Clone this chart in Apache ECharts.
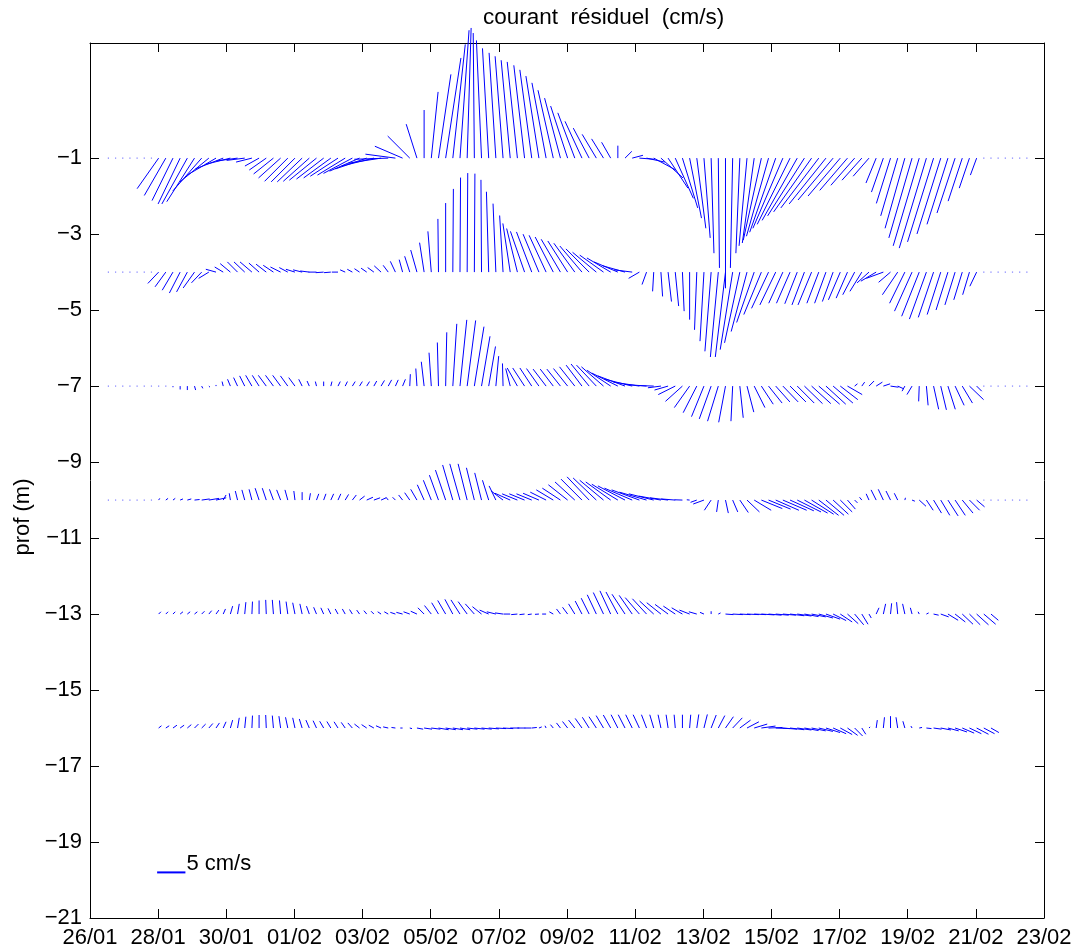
<!DOCTYPE html>
<html><head><meta charset="utf-8">
<script src="https://cdn.jsdelivr.net/npm/echarts@6/dist/echarts.min.js"></script>
<style>html,body{margin:0;padding:0;background:#fff}#c{width:1078px;height:951px}</style>
</head><body><div id="c"></div>
<script>
// ---- axis ticks ----
const tickLabels = ['26/01','28/01','30/01','01/02','03/02','05/02','07/02','09/02','11/02','13/02','15/02','17/02','19/02','21/02','23/02'];
const dayTicks = [0,2,4,6,8,10,12,14,16,18,20,22,24,26,28];
const depthTicks = [-21,-19,-17,-15,-13,-11,-9,-7,-5,-3,-1];
const depths = [-1,-4,-7,-10,-13,-16];
// sampling: first sample 26/01 ~13h, step ~5h
const startDay = 0.54;
const stepDay = 0.2106;

// ---- residual current (cm/s): east (u) and north (v) components, per depth ----
const u1 = [0,0,0,0,0,0,0,
 -3.8,-3.8,-3.7,-3.9,-4.5,-4.9,-5.1,-5.1,-5.1,-4.9,
 -4.4,-3.7,-3.2,-2.8,-2.5,-3.0,-3.5,-3.9,-4.1,-4.2,
 -4.4,-4.6,-4.8,-4.8,-4.8,-4.9,-4.9,-5.1,-5.3,-5.5,
 -5.7,-5.8,-6.0,-5.3,-4.9,-3.9,-1.9,0,1.2,2.2,
 2.7,2.2,1.6,0.7,-0.2,-0.9,-1.1,-1.2,-1.4,-1.6,
 -1.8,-1.9,-2.1,-2.3,-2.5,-2.7,-2.8,-3.0,-3.0,-3.0,
 -2.8,-2.5,-2.1,-1.6,0,1.2,1.9,2.7,3.2,3.9,
 3.9,3.5,3.2,2.7,2.1,1.6,1.1,0.5,0.2,0,
 -0.4,-0.7,-1.4,-2.1,-3.2,-3.9,-4.6,-5.3,-5.8,-6.2,
 -6.5,-6.7,-6.7,-6.5,-6.2,-5.7,-4.9,-4.2,-3.5,-2.8,
 -1.8,-2.1,-2.5,-3.0,-3.5,-4.1,-4.6,-4.8,-4.6,-4.2,
 -3.7,-3.2,-2.5,-1.8,-1.1,
 0,0,0,0,0,0,0];
const v1 = [0,0,0,0,0,0,0,
 -5.4,-6.6,-7.5,-8.1,-8.1,-7.7,-5.8,-4.2,-3.0,-1.9,
 -1.1,-0.5,-0.4,-0.7,-1.4,-2.1,-2.8,-3.5,-4.1,-4.2,
 -4.2,-4.1,-3.9,-3.7,-3.5,-3.2,-3.0,-2.7,-2.3,-1.9,
 -1.4,-0.9,-0.2,0.7,2.1,3.9,6.0,8.5,11.7,14.8,
 17.7,20.1,22.6,23.0,22.1,20.8,19.4,18.6,18.0,17.3,
 17.0,16.4,15.6,14.5,13.3,12.0,10.6,9.2,8.0,6.5,
 5.3,4.2,3.4,2.8,2.2,1.2,0.5,-0.2,-0.7,-2.1,
 -3.5,-5.3,-7.1,-8.8,-10.6,-12.4,-14.1,-16.8,-19.4,-23.0,
 -19.4,-16.8,-15.5,-15.0,-14.5,-13.8,-13.1,-12.4,-11.7,-11.0,
 -10.2,-9.5,-8.8,-8.1,-7.4,-6.7,-5.7,-4.8,-3.9,-3.2,
 -4.4,-6.0,-8.0,-10.2,-12.4,-14.1,-15.5,-15.9,-14.8,-13.4,
 -11.7,-9.7,-7.6,-5.3,-3.0,
 0,0,0,0,0,0,0];
const u4 = [0,0,0,0,0,0,0,
 -1.9,-1.9,-1.9,-1.9,-1.9,-2.0,-1.8,-1.8,-1.8,-1.5,
 -1.8,-1.8,-1.9,-2.1,-1.8,-1.8,-1.8,-1.8,-1.5,-1.6,
 -1.6,-1.6,-1.4,-1.4,-1.2,-1.1,-0.9,-0.9,-0.9,-1.0,
 -1.1,-1.2,-0.9,-0.9,-0.6,-0.9,-1.1,-0.8,-0.6,-0.1,
 0,0.1,0.1,0.1,0.1,-0.1,-0.4,-0.5,-0.6,-1.3,
 -1.9,-2.5,-2.7,-2.8,-3.0,-3.2,-3.4,-3.5,-3.7,-3.9,
 -4.1,-4.2,-4.2,-4.2,-4.2,-3.9,-3.2,-1.9,-0.8,-0.2,
 0.3,0.6,0.6,0.3,0,-0.4,-0.7,-1.1,-1.4,-1.8,
 -2.2,-2.7,-2.8,-3.1,-3.1,-3.0,-2.8,-2.5,-2.4,-2.2,
 -2.2,-2.4,-2.1,-2.0,-1.9,-2.1,-2.0,-2.1,-2.1,-2.1,
 -2.7,-3.0,-2.1,-2.7,-2.7,-3.1,-3.1,-3.0,-2.7,-2.4,
 -2.1,-1.8,-1.5,-1.2,-1.2,
 0,0,0,0,0,0,0];
const v4 = [0,0,0,0,0,0,0,
 -2.0,-2.6,-3.2,-3.7,-3.5,-2.8,-1.9,-1.1,0.5,0.9,
 1.5,1.8,1.8,1.8,1.6,1.4,1.2,0.9,0.8,0.5,
 0.4,0.2,0,-0.1,-0.1,0,0.4,0.5,0.6,0.7,
 0.8,1.1,1.2,1.9,2.2,2.8,3.9,5.2,7.2,9.4,
 12.2,14.7,16.7,17.5,17.4,16.3,14.2,12.1,10.0,8.6,
 7.7,7.2,7.1,6.7,6.5,6.2,5.8,5.5,5.1,4.6,
 4.1,3.5,3.0,2.5,1.8,1.1,0.4,-1.1,-2.2,-3.4,
 -4.3,-5.2,-6.0,-6.9,-8.4,-10.2,-12.2,-14.0,-15.0,-15.0,
 -13.7,-12.5,-10.5,-8.9,-7.5,-6.4,-5.8,-5.5,-5.5,-5.6,
 -5.8,-5.8,-5.5,-5.5,-5.2,-4.9,-4.6,-4.0,-3.4,-1.9,
 -1.6,-1.1,-1.8,-4.0,-5.5,-6.9,-7.8,-8.3,-8.0,-7.5,
 -6.7,-5.8,-4.9,-4.0,-2.5,
 0,0,0,0,0,0,0];
const u7 = [0,0,0,0,0,0,0,0,0,
 0,0,0,0.2,0.2,0.2,0,-0.2,
 -0.5,-0.7,-0.9,-1.1,-1.2,-1.4,-1.4,-1.4,-1.3,-1.1,
 -0.6,-0.4,-0.2,0,0.2,0.4,0.4,0.5,0.5,0.5,
 0.5,0.6,0.6,0.5,0.5,0.1,-0.2,-0.5,-0.4,-0.2,
 0.2,0.7,1.2,1.5,1.7,1.5,1.2,0.5,-0.1,-0.8,
 -1.8,-2.1,-2.1,-2.2,-2.3,-2.3,-2.4,-2.5,-2.7,-2.8,
 -3.2,-3.5,-3.9,-4.2,-4.6,-4.8,-4.8,-4.6,-3.9,-2.8,
 -2.3,-2.4,-3.0,-3.0,-2.7,-2.4,-2.2,-2.1,-1.9,-1.2,
 -0.3,0.6,1.2,1.9,2.1,2.4,2.5,2.7,2.8,3.0,
 3.2,3.4,3.7,3.5,3.5,3.1,2.6,0.5,0.5,0.9,
 1.1,1.2,1.4,1.1,-0.5,-0.9,-0.1,0.3,0.9,1.0,
 1.3,1.6,1.8,2.5,0.9,
 0,0,0,0,0,0,0];
const v7 = [0,0,0,0,0,0,0,0,0,
 -0.2,-0.6,-0.7,-0.7,-0.4,-0.2,0.2,0.8,
 1.2,1.5,1.8,1.9,1.9,1.9,1.9,1.9,1.8,1.5,
 1.2,0.9,0.8,0.8,0.8,0.8,0.8,0.8,0.8,0.8,
 0.9,1.0,1.1,1.1,1.2,2.1,3.1,4.3,5.9,7.7,
 9.5,11.0,11.7,11.6,10.5,8.8,7.0,5.3,4.0,3.1,
 3.2,3.2,3.2,3.1,3.0,3.0,3.0,3.1,3.4,3.7,
 3.9,3.7,3.4,2.8,2.3,1.8,1.2,0.7,0.3,0.1,
 -0.3,-0.7,-1.5,-2.7,-3.8,-4.7,-5.4,-5.8,-6.2,-6.4,
 -6.2,-5.6,-4.6,-3.8,-3.2,-3.0,-2.8,-2.8,-2.8,-3.0,
 -3.1,-3.1,-3.2,-3.2,-3.0,-2.4,-1.5,0.4,0.7,0.9,
 0.7,0.4,-0.2,-0.5,-0.9,-1.5,-2.7,-3.4,-4.1,-4.2,
 -4.1,-3.4,-3.0,-2.4,-0.9,
 0,0,0,0,0,0,0];
const u10 = [0,0,0,0,0,0,0,
 0.2,0.4,0.4,0.5,0.7,0.9,1.4,1.8,1.8,0.5,
 -0.2,-0.4,-0.5,-0.5,-0.7,-0.7,-0.7,-0.7,-0.5,-0.2,
 0,0.2,0.4,0.4,0.5,0.5,0.6,0.7,0.9,1.1,
 1.1,0.9,-0.4,-0.5,-0.7,-0.9,-1.1,-1.2,-1.4,-1.6,
 -1.8,-1.8,-1.8,-1.6,-1.4,-1.2,-1.1,-1.2,-2.1,-2.7,
 -2.7,-2.7,-2.7,-2.8,-2.8,-3.0,-3.2,-3.4,-3.5,-3.7,
 -3.9,-4.1,-4.2,-4.4,-4.6,-4.8,-4.9,-4.9,-4.8,-4.4,
 -3.9,-3.2,-2.5,-1.4,-0.5,-1.1,-1.9,-1.2,-0.3,0.5,
 0.9,1.5,2.2,3.0,3.7,3.9,4.1,4.2,4.2,4.2,
 4.1,3.9,3.5,3.2,2.7,2.1,1.4,0.5,-0.4,-0.5,
 -0.9,-0.9,-0.8,-0.6,0.1,0.5,1.2,1.2,1.4,1.6,
 1.8,1.8,1.9,1.8,1.4,
 0,0,0,0,0,0,0];
const v10 = [0,0,0,0,0,0,0,
 0.3,0.3,0.3,0.2,0.2,0.1,0.2,0.3,0.4,0.9,
 1.2,1.6,1.8,1.9,2.1,2.1,1.9,1.8,1.8,1.6,
 1.4,1.2,1.1,1.1,1.1,1.1,1.0,0.9,0.7,0.5,
 0.4,0.4,0.5,0.5,0.9,1.3,1.9,2.7,3.5,4.4,
 5.3,6.2,6.4,6.4,5.7,4.8,3.5,2.5,1.6,1.2,
 1.1,1.1,1.1,1.2,1.4,1.8,2.1,2.7,3.2,3.7,
 4.1,3.9,3.5,3.2,2.8,2.5,2.1,1.8,1.4,1.1,
 0.7,0.4,0.2,0.05,0.05,-0.4,-0.7,-1.8,-2.1,-2.3,
 -2.1,-2.2,-2.1,-1.8,-1.5,-1.6,-1.8,-1.8,-1.9,-2.1,
 -2.3,-2.5,-2.7,-2.7,-2.5,-2.1,-1.6,-0.5,0.5,1.1,
 1.8,1.9,1.6,1.2,0.4,-0.2,-1.1,-1.8,-2.3,-2.7,
 -2.8,-2.7,-2.3,-1.8,-1.2,
 0,0,0,0,0,0,0];
const u13 = [null,null,null,null,null,null,null,
 0.4,0.4,0.4,0.5,0.5,0.5,0.5,0.5,0.5,0.4,
 0.4,0.3,0.2,0.1,0,-0.1,-0.2,-0.2,-0.3,-0.4,
 -0.4,-0.5,-0.5,-0.5,-0.5,-0.5,-0.5,-0.5,-0.5,-0.5,
 -0.5,-0.6,-0.7,-0.9,-1.1,-1.1,-1.1,-1.1,-1.2,-1.2,
 -1.4,-1.4,-1.6,-1.6,-1.6,-1.6,-1.6,-1.6,-1.4,-1.2,
 -1.1,-0.9,-0.7,-0.7,-0.7,-0.7,-0.7,-0.9,-1.1,-1.2,
 -1.4,-1.6,-1.8,-1.9,-2.1,-2.3,-2.3,-2.5,-2.5,-2.5,
 -2.5,-2.3,-2.1,-1.9,-1.8,-1.4,-0.7,0,0.4,1.4,
 1.8,1.9,2.1,2.1,2.3,2.3,2.3,2.3,2.5,2.5,
 2.5,2.5,2.5,2.5,2.3,2.1,1.9,1.6,1.1,0.4,
 0.5,0.4,0.2,-0.2,-0.4,-0.3,-0.2,0.4,0.9,1.4,
 1.8,1.8,1.9,1.9,2.1,2.1,1.3,
 null,null,null,null,null];
const v13 = [null,null,null,null,null,null,null,
 0.4,0.4,0.4,0.4,0.4,0.4,0.5,0.6,0.7,0.9,
 1.4,1.8,2.1,2.2,2.4,2.5,2.5,2.4,2.2,2.0,
 1.8,1.4,1.2,1.1,1.0,0.9,0.9,0.8,0.7,0.6,
 0.5,0.4,0.4,0.3,0.3,0.4,0.5,1.1,1.5,2.0,
 2.4,2.6,2.5,2.2,1.8,1.3,0.7,0.4,0.2,0,
 -0.1,-0.1,-0.1,-0.05,0,0.4,0.9,1.2,1.8,2.3,
 2.8,3.4,3.8,4.1,3.9,3.5,3.3,2.9,2.7,2.3,
 2.0,1.7,1.4,1.1,0.7,0.4,0.3,0.5,0.2,-0.1,
 -0.1,-0.1,-0.1,-0.1,-0.15,-0.2,-0.2,-0.2,-0.3,-0.35,
 -0.45,-0.5,-0.7,-0.9,-1.15,-1.4,-1.7,-1.9,-1.8,-0.7,
 1.1,1.8,1.9,2.1,1.8,1.1,0.4,0.2,-0.2,-0.5,
 -1.1,-1.4,-1.8,-1.9,-1.9,-1.8,-1.1,
 null,null,null,null,null];
const u16 = [null,null,null,null,null,null,null,
 0.5,0.6,0.7,0.7,0.7,0.7,0.7,0.7,0.6,0.5,
 0.4,0.3,0.2,0.1,0,-0.1,-0.2,-0.3,-0.4,-0.4,
 -0.5,-0.6,-0.6,-0.7,-0.7,-0.7,-0.7,-0.8,-0.9,-0.9,
 -0.9,-0.9,-0.9,-0.7,-0.4,0.4,1.1,1.4,1.6,1.8,
 1.8,1.8,1.8,1.8,1.8,1.8,1.8,1.8,1.8,1.6,
 1.4,1.2,0.9,0.5,-0.2,-0.5,-0.7,-0.9,-1.1,-1.2,
 -1.2,-1.3,-1.3,-1.3,-1.2,-1.2,-1.15,-1.1,-0.9,-0.7,
 -0.5,-0.35,-0.2,0,0.2,0.35,0.6,0.9,1.15,1.4,
 1.7,1.9,2.1,2.3,2.5,2.5,2.5,2.5,2.5,2.5,
 2.5,2.5,2.5,2.5,2.3,2.1,1.8,1.4,0.7,0.2,
 0.2,0.2,0,-0.3,-0.35,-0.2,0.5,0.9,1.4,1.8,
 1.9,2.1,2.1,2.1,2.1,1.9,1.4,
 null,null,null,null,null];
const v16 = [null,null,null,null,null,null,null,
 0.4,0.4,0.5,0.5,0.6,0.7,0.7,0.8,0.9,1.1,
 1.4,1.8,2.0,2.2,2.3,2.3,2.2,2.1,1.9,1.8,
 1.6,1.4,1.3,1.2,1.15,1.1,1.0,0.9,0.7,0.6,
 0.5,0.4,0.2,0.1,0,-0.1,-0.2,-0.2,-0.2,-0.3,
 -0.3,-0.3,-0.3,-0.2,-0.2,-0.2,-0.15,-0.1,-0.1,0,
 0,0,0.1,0.2,0.4,0.6,0.9,1.15,1.4,1.7,
 1.9,2.0,2.2,2.3,2.35,2.35,2.35,2.35,2.35,2.35,
 2.35,2.35,2.35,2.35,2.35,2.4,2.4,2.3,2.2,2.0,
 1.8,1.4,1.1,0.7,0.35,0.1,-0.1,-0.2,-0.3,-0.35,
 -0.45,-0.5,-0.6,-0.8,-1.0,-1.15,-1.3,-1.4,-1.1,0.2,
 1.4,1.9,2.1,1.9,1.2,0.35,0.1,-0.1,-0.2,-0.35,
 -0.5,-0.7,-0.9,-1.0,-1.1,-1.0,-0.8,
 null,null,null,null,null];

const uLevels = [u1,u4,u7,u10,u13,u16];
const vLevels = [v1,v4,v7,v10,v13,v16];

// scale reference arrow
const refSpeed = 5;            // cm/s
const refPos = [1.97, -19.8];  // day, depth
const refText = '5 cm/s';
const DAYS_PER_CMS = 0.1661;   // stick length: 1 cm/s drawn as long as 0.1661 day on the time axis

// ---- build dataset rows ----
const rows = [];
depths.forEach((d, k) => {
  const u = uLevels[k], v = vLevels[k];
  for (let i = 0; i < u.length; i++) {
    if (u[i] === null || v[i] === null) continue;
    rows.push([startDay + i * stepDay, d, u[i], v[i]]);
  }
});

const BLUE = '#0000ff';
const FONT = '"Liberation Sans", Arial, Helvetica, sans-serif';
const FS = 22;

function renderStick(params, api) {
  const p = api.coord([api.value(0), api.value(1)]);
  const u = api.value(2), v = api.value(3);
  const k = api.size([1, 0])[0] * DAYS_PER_CMS;
  if (u === 0 && v === 0) {
    return { type: 'rect', shape: { x: p[0] - 0.6, y: p[1] - 0.6, width: 1.2, height: 1.2 },
             style: { fill: BLUE, opacity: 0.5 } };
  }
  return { type: 'line', shape: { x1: p[0], y1: p[1], x2: p[0] + u * k, y2: p[1] - v * k },
           style: { stroke: BLUE, lineWidth: 1 } };
}

function renderRef(params, api) {
  const p = api.coord([api.value(0), api.value(1)]);
  const k = api.size([1, 0])[0] * DAYS_PER_CMS;
  const x2 = p[0] + api.value(2) * k;
  return { type: 'group', children: [
    { type: 'line', shape: { x1: p[0], y1: p[1], x2: x2, y2: p[1] }, style: { stroke: BLUE, lineWidth: 2 } },
    { type: 'text', x: x2 + 1, y: p[1] + 3,
      style: { text: refText, fill: '#000', font: FS + 'px ' + FONT, textAlign: 'left', textVerticalAlign: 'bottom' } }
  ]};
}

const axisLineStyle = { onZero: false, lineStyle: { color: '#000', width: 1 } };
const tickStyle = { inside: true, length: 9, lineStyle: { color: '#000', width: 1 } };

const chart = echarts.init(document.getElementById('c'), null, { renderer: 'canvas' });
chart.setOption({
  animation: false,
  backgroundColor: '#fff',
  title: { text: 'courant  résiduel  (cm/s)', left: 483, top: 6, padding: 0,
           textStyle: { fontFamily: FONT, fontSize: 22.5, fontWeight: 'normal', color: '#000' } },
  graphic: [
    { type: 'text', x: 23, y: 517, rotation: Math.PI / 2,
      style: { text: 'prof (m)', fill: '#000', font: FS + 'px ' + FONT, textAlign: 'center', textVerticalAlign: 'middle' } }
  ],
  grid: { left: 90, right: 34, top: 43, bottom: 33, containLabel: false },
  xAxis: [
    { type: 'value', min: 0, max: 28, position: 'bottom',
      axisLine: axisLineStyle,
      axisTick: Object.assign({ customValues: dayTicks }, tickStyle),
      axisLabel: { customValues: dayTicks, formatter: v => tickLabels[Math.round(v / 2)],
                   color: '#000', fontFamily: FONT, fontSize: FS, margin: 9 },
      splitLine: { show: false } },
    { type: 'value', min: 0, max: 28, position: 'top',
      axisLine: axisLineStyle,
      axisTick: Object.assign({ customValues: dayTicks }, tickStyle),
      axisLabel: { show: false }, splitLine: { show: false } }
  ],
  yAxis: [
    { type: 'value', min: -21, max: 2.03, position: 'left',
      axisLine: axisLineStyle,
      axisTick: Object.assign({ customValues: depthTicks }, tickStyle),
      axisLabel: { customValues: depthTicks, formatter: v => (v < 0 ? '\u2212' + (-v) : String(v)),
                   color: '#000', fontFamily: FONT, fontSize: FS, margin: 8 },
      splitLine: { show: false } },
    { type: 'value', min: -21, max: 2.03, position: 'right',
      axisLine: axisLineStyle,
      axisTick: Object.assign({ customValues: depthTicks }, tickStyle),
      axisLabel: { show: false }, splitLine: { show: false } }
  ],
  series: [
    { type: 'custom', name: 'courant', xAxisIndex: 0, yAxisIndex: 0, clip: false,
      renderItem: renderStick, data: rows, encode: { x: 0, y: 1 }, silent: true },
    { type: 'custom', name: 'echelle', xAxisIndex: 0, yAxisIndex: 0, clip: false,
      renderItem: renderRef, data: [[refPos[0], refPos[1], refSpeed]], encode: { x: 0, y: 1 }, silent: true }
  ]
});
</script></body></html>
